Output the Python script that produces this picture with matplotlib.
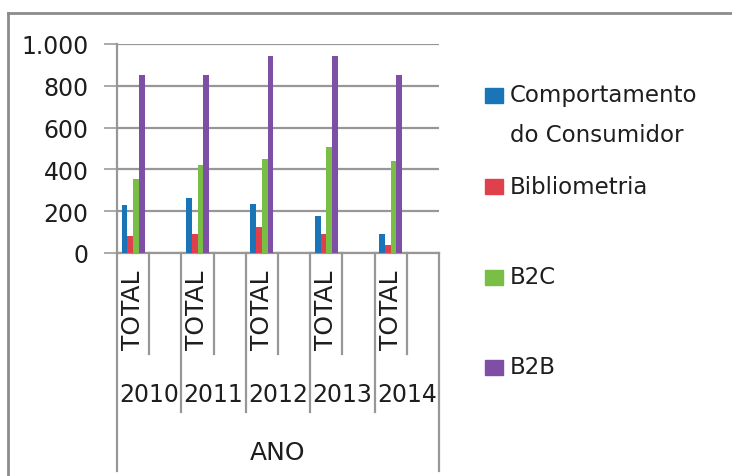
import matplotlib
matplotlib.use("Agg")
import matplotlib.pyplot as plt
from matplotlib.lines import Line2D
from matplotlib.patches import Rectangle
from matplotlib.ticker import FuncFormatter

# ---- data ----
years = ["2010", "2011", "2012", "2013", "2014"]
sub_labels = ["TOTAL", ""]
series_names = ["Comportamento\ndo Consumidor", "Bibliometria", "B2C", "B2B"]
comportamento = [232, 264, 233, 179, 93]
bibliometria = [80, 93, 125, 93, 37]
b2c = [352, 419, 451, 505, 440]
b2b = [853, 853, 941, 941, 853]
axis_title = "ANO"
y_ticks = [0, 200, 400, 600, 800, 1000]

series_values = [comportamento, bibliometria, b2c, b2b]
colors = ["#1a74b8", "#e0404c", "#79bf45", "#7f4fa6"]
grid_c = "#979797"
text_c = "#1e1e1e"

W, H = 732, 477
fig = plt.figure(figsize=(W / 100, H / 100), dpi=100)
fig.patch.set_facecolor("white")
plt.rcParams["font.family"] = ["DejaVu Sans"]

def fx(px):
    return px / W

def fy(py):
    return 1 - py / H

ax_left, ax_right, ax_top, ax_bot = 117, 439, 45, 254
ax = fig.add_axes([fx(ax_left), fy(ax_bot), (ax_right - ax_left) / W, (ax_bot - ax_top) / H])

def ay(py):
    return (ax_bot - py) / (ax_bot - ax_top)

n_sub = len(sub_labels)
n_slots = len(years) * n_sub
bw = 0.18
for s, (vals, col) in enumerate(zip(series_values, colors)):
    xs = [i * n_sub + (s - 1.5) * bw for i in range(len(years))]
    ax.bar(xs, vals, width=bw, color=col, zorder=3, linewidth=0)

ax.set_xlim(-0.5, n_slots - 0.5)
ax.set_ylim(0, 1000)
ax.set_yticks(y_ticks)
ax.yaxis.set_major_formatter(FuncFormatter(lambda v, p: f"{int(v):,}".replace(",", ".")))
ax.grid(axis="y", color=grid_c, linewidth=1.6, zorder=0)
ax.set_axisbelow(True)
for sp in ["top", "right"]:
    ax.spines[sp].set_visible(False)
ax.spines["left"].set_color(grid_c)
ax.spines["left"].set_linewidth(1.6)
ax.spines["bottom"].set_color(grid_c)
ax.spines["bottom"].set_linewidth(1.6)
ax.set_xticks([])
ax.tick_params(axis="y", length=9.4, width=1.15, color=grid_c, pad=11,
               labelsize=17, labelcolor=text_c)

tr = ax.get_xaxis_transform()
# category axis divider lines
for i in range(len(years)):
    x_in = i * n_sub + 0.5
    ax.add_line(Line2D([x_in, x_in], [0, ay(355)], transform=tr, color=grid_c,
                       lw=1.6, clip_on=False))
    if i < len(years) - 1:
        x_yr = i * n_sub + 1.5
        ax.add_line(Line2D([x_yr, x_yr], [0, ay(413)], transform=tr, color=grid_c,
                           lw=1.6, clip_on=False))
for x_out in [-0.5, n_slots - 0.5]:
    ax.add_line(Line2D([x_out, x_out], [0, ay(472)], transform=tr, color=grid_c,
                       lw=1.6, clip_on=False))

# labels
for i, yr in enumerate(years):
    ax.text(i * n_sub, ay(271), sub_labels[0], transform=tr, rotation=90,
            ha="center", va="top", fontsize=18, color=text_c, clip_on=False)
    ax.text(i * n_sub + 0.5, ay(395), yr, transform=tr, ha="center", va="center",
            fontsize=17, color=text_c, clip_on=False)
ax.text((n_slots - 1) / 2, ay(453), axis_title, transform=tr, ha="center",
        va="center", fontsize=18, color=text_c, clip_on=False)

# legend (manual)
leg_y = [96, 187, 278, 368]
for name, col, yc in zip(series_names, colors, leg_y):
    fig.patches.append(Rectangle((fx(485), fy(yc + 7.5)), 18 / W, 15 / H,
                                 transform=fig.transFigure, color=col))
    for k, line in enumerate(name.split("\n")):
        fig.text(fx(510), fy(yc + k * 40), line, ha="left", va="center",
                 fontsize=16.5, color=text_c)

# outer frame (partial)
fig.add_artist(Line2D([fx(8), fx(8)], [fy(14), fy(477)], transform=fig.transFigure,
                      color="#8c8c8c", lw=2))
fig.add_artist(Line2D([fx(8), fx(732)], [fy(14), fy(14)], transform=fig.transFigure,
                      color="#8c8c8c", lw=2))

fig.savefig("out.png", dpi=100, facecolor="white")
